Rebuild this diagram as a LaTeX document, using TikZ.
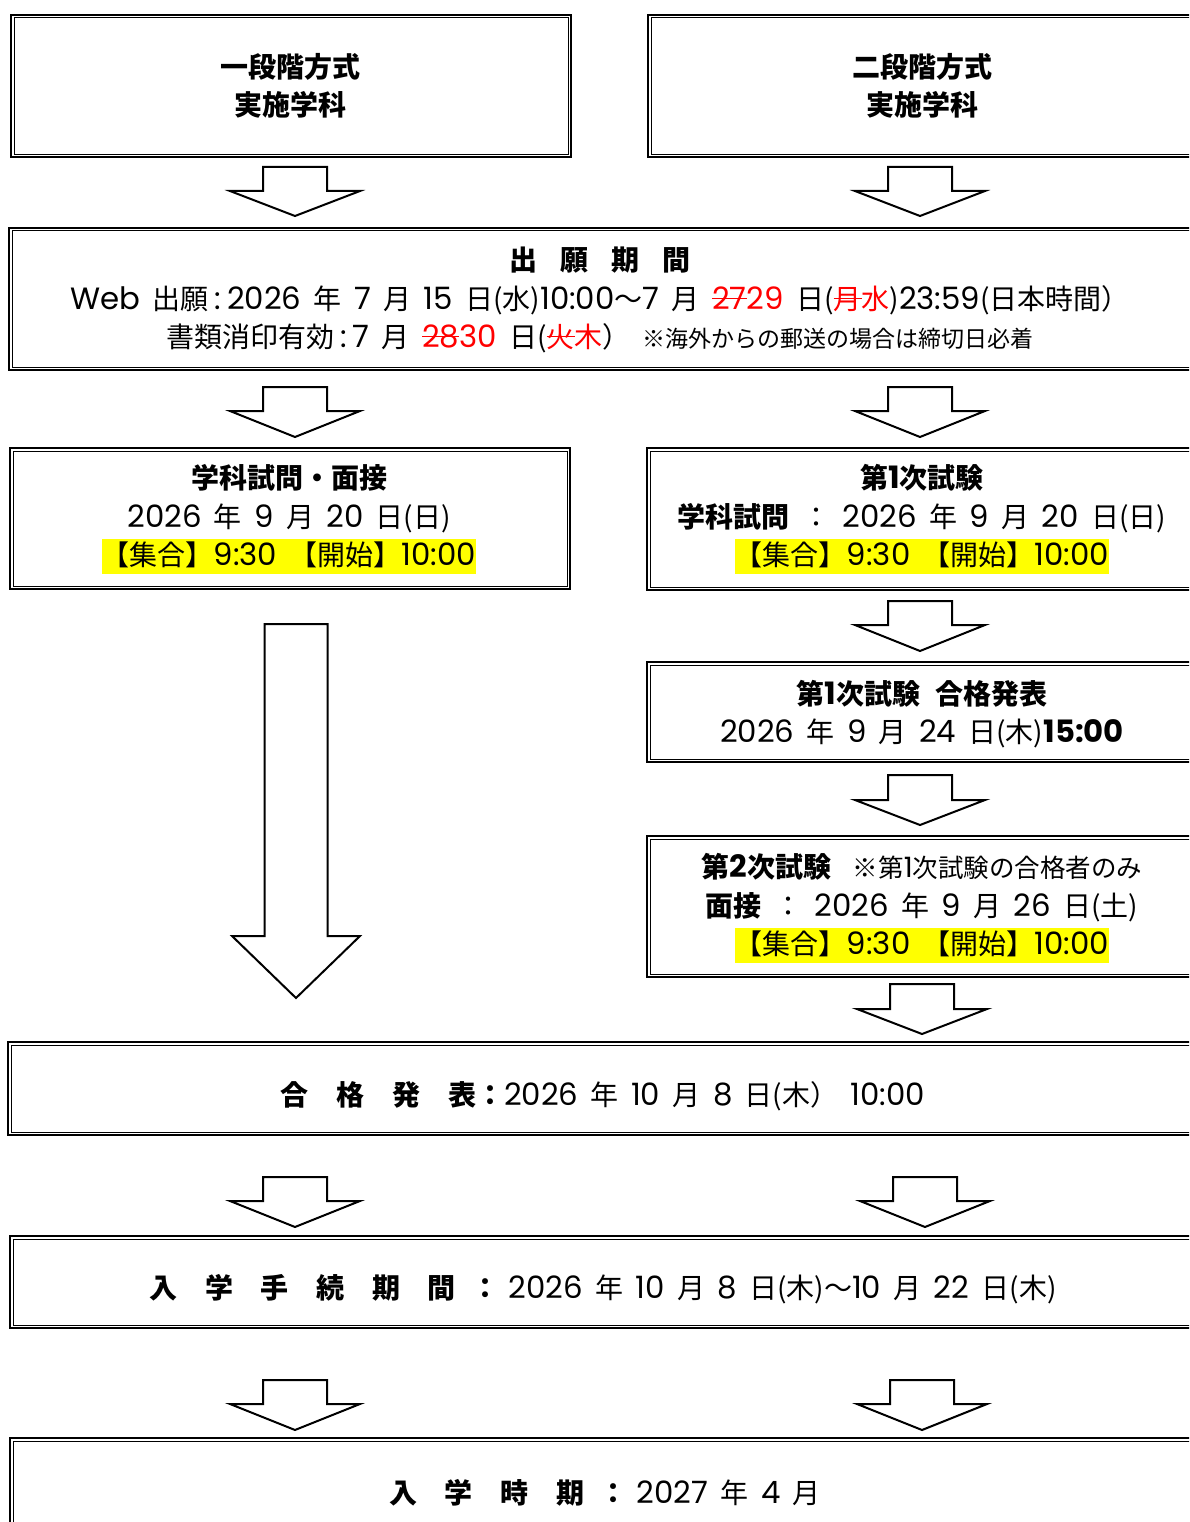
\documentclass[tikz,border=0pt]{standalone}
\usepackage{fontspec}
\setmainfont{Poppins}[Scale=1.1,Numbers=Monospaced,WordSpace=1.5]
\newfontfamily\cjkfont{Noto Sans CJK JP}
\newcommand\latinfont{\rmfamily}
\XeTeXinterchartokenstate=1
\newXeTeXintercharclass\cjkcls
\newcount\cc
\cc="2E80 \loop \XeTeXcharclass\cc=\cjkcls \advance\cc 1 \ifnum\cc<"A000 \repeat
\cc="FF00 \loop \XeTeXcharclass\cc=\cjkcls \advance\cc 1 \ifnum\cc<"FFF0 \repeat
\XeTeXcharclass"203B=\cjkcls
\XeTeXcharclass`(=\cjkcls
\XeTeXcharclass`)=\cjkcls
\XeTeXinterchartoks 0 \cjkcls = {\cjkfont}
\XeTeXinterchartoks 4095 \cjkcls = {\cjkfont}
\XeTeXinterchartoks \cjkcls 0 = {\latinfont}
\XeTeXinterchartoks \cjkcls 4095 = {\latinfont}
\usepackage{xcolor}
\definecolor{hl}{RGB}{255,255,0}
\definecolor{rd}{RGB}{255,0,0}
\newcommand\hlt[1]{{\setlength{\fboxsep}{0pt}\colorbox{hl}{\rule[-8pt]{0pt}{35pt}#1}}}
\newcommand\rs[1]{{\color{rd}\setbox0\hbox{#1}\rlap{\rule[0.33em]{\wd0}{1.3pt}}\box0}}
\newcommand\rt[1]{{\color{rd}#1}}
\newcommand\gap[1]{\hspace{#1em}}
\newcommand\wcolon{\hspace{6pt}:\hspace{6pt}}
\tikzset{
  box/.style={draw, line width=2.2pt, anchor=north west, inner sep=0pt},
  innerline/.style={line width=1pt},
  txt/.style={align=center, inner sep=0pt, font=\fontsize{28}{38.5}\selectfont},
  barr/.style={draw, line width=2pt, fill=white, line join=miter},
}
\newcommand\dbox[5]{%
  \node[box, minimum width=#4pt, minimum height=#5pt] (#1) at (#2,#3) {};
  \draw[innerline] ([shift={(4,4)}]#1.north west) rectangle ([shift={(-4,-4)}]#1.south east);}
\newcommand\barrow[6]{% cx, top, shoulder, tip, shaft half, head half
  \draw[barr] (#1-#5,#2) -- (#1+#5,#2) -- (#1+#5,#3) -- (#1+#6,#3) -- (#1,#4)
     -- (#1-#6,#3) -- (#1-#5,#3) -- cycle;}
\begin{document}
\begin{tikzpicture}[x=1pt,y=-1pt]
\clip (0,0) rectangle (1189,1522);
\fill[white] (0,0) rectangle (1189,1522);
% boxes
\dbox{bA}{10}{14}{560}{142}
\dbox{bB}{647}{14}{560}{142}
\dbox{bApp}{8}{227}{1200}{142}
\dbox{bC}{9}{447}{560}{141}
\dbox{bD}{646}{447}{560}{142}
\dbox{bE}{646}{661}{560}{100}
\dbox{bF}{646}{835}{560}{141}
\dbox{bG}{7}{1041}{1200}{93}
\dbox{bH}{9}{1235}{1200}{92}
\dbox{bI}{9}{1437}{1200}{120}
% texts
\node[txt] (tA) at (290,86) {\bfseries 一段階方式\\\bfseries 実施学科};
\node[txt] (tB) at (922,86) {\bfseries 二段階方式\\\bfseries 実施学科};
\node[txt] (tApp) at (600,300) {{\bfseries 出\gap{.75}願\gap{.75}期\gap{.75}間}\\
Web 出願\wcolon 2026 年 7 月 15 日(水)10:00～7 月 \rs{27}\rt{29} 日(\rs{月}\rt{水})23:59(日本時間）\\
書類消印有効\wcolon 7 月 \rs{28}\rt{30} 日(\rs{火}\rt{木}） {\fontsize{23}{26}\selectfont ※海外からの郵送の場合は締切日必着}};
\node[txt] (tC) at (289,519) {{\bfseries 学科試問・面接}\\
2026 年 9 月 20 日(日)\\
\hlt{【集合】9:30 【開始】10:00}};
\node[txt] (tD) at (922,519) {{\bfseries 第1次試験}\\
{\bfseries 学科試問} ： 2026 年 9 月 20 日(日)\\
\hlt{【集合】9:30 【開始】10:00}};
\node[txt] (tE) at (922,714) {{\bfseries 第1次試験\gap{.5}合格発表}\\
2026 年 9 月 24 日(木){\bfseries 15:00}};
\node[txt] (tF) at (922,908) {{\bfseries 第2次試験}\gap{.7}{\fontsize{25.5}{30}\selectfont ※第1次試験の合格者のみ}\\
{\bfseries 面接} ： 2026 年 9 月 26 日(土)\\
\hlt{【集合】9:30 【開始】10:00}};
\node[txt] (tG) at (603,1096) {{\bfseries 合\gap{.9}格\gap{.9}発\gap{.9}表：}2026 年 10 月 8 日(木） 10:00};
\node[txt] (tH) at (603,1289) {{\bfseries 入\gap{.9}学\gap{.9}手\gap{.9}続\gap{.9}期\gap{.9}間\gap{.5}：}\gap{.3}2026 年 10 月 8 日(木)～10 月 22 日(木)};
\node[txt] (tI) at (605,1493) {{\bfseries 入\gap{.9}学\gap{.9}時\gap{.9}期\gap{.5}：}\gap{.3}2027 年 4 月};
% block arrows
\barrow{295}{167}{191}{216}{32}{65}
\barrow{920}{167}{191}{216}{32}{65}
\barrow{295}{387}{411}{437}{32}{65}
\barrow{920}{387}{411}{437}{32}{65}
\barrow{920}{601}{625}{651}{32}{65}
\barrow{920}{775}{800}{825}{32}{65}
\barrow{922}{984}{1009}{1034}{32}{65}
\barrow{296}{624}{936}{998}{31.5}{64}
\barrow{295}{1177}{1201}{1227}{32}{65}
\barrow{925}{1177}{1201}{1227}{32}{65}
\barrow{295}{1380}{1404}{1430}{32}{65}
\barrow{922}{1380}{1404}{1430}{32}{65}
\end{tikzpicture}
\end{document}
